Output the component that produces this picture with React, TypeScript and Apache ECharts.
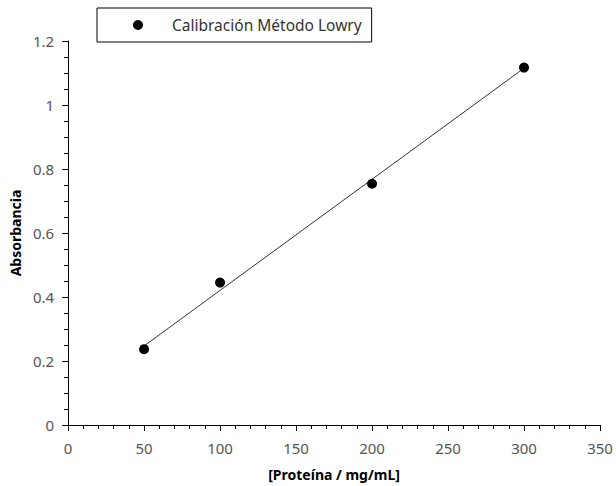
import React, { useEffect, useRef } from "react";
import * as echarts from "echarts";

// Protein concentration (mg/mL) and measured absorbance
const proteina = [50, 100, 200, 300];
const absorbancia = [0.237, 0.445, 0.754, 1.117];

// Calibration (least-squares) line end points
const ajusteX = [50, 300];
const ajusteY = [0.247, 1.115];

const serieNombre = "Calibración Método Lowry";
const ejeX = "[Proteína / mg/mL]";
const ejeY = "Absorbancia";

const FONT = "'Noto Sans', 'Open Sans', sans-serif";

export default function App() {
  const ref = useRef<HTMLDivElement>(null);

  useEffect(() => {
    if (!ref.current) return;
    const chart = echarts.init(ref.current, undefined, { renderer: "svg" });

    const puntos = proteina.map((x, i) => [x, absorbancia[i]]);
    const linea = ajusteX.map((x, i) => [x, ajusteY[i]]);

    const axisCommon = {
      axisLine: { show: true, lineStyle: { color: "#000", width: 1 } },
      axisTick: { show: true, inside: false, length: 6, lineStyle: { color: "#000" } },
      minorTick: { show: true, length: 4, lineStyle: { color: "#000" } },
      splitLine: { show: false },
      axisLabel: { color: "#555", fontSize: 15, fontFamily: FONT },
      nameTextStyle: { color: "#000", fontSize: 14, fontWeight: "bold", fontFamily: FONT },
    };

    chart.setOption({
      animation: false,
      textStyle: { fontFamily: FONT },
      grid: { left: 68, right: 16, top: 41, bottom: 56, containLabel: false },
      legend: {
        left: 97,
        top: 8,
        orient: "horizontal",
        icon: "circle",
        itemWidth: 10,
        itemHeight: 10,
        padding: [9, 10, 9, 36],
        borderColor: "#000",
        borderWidth: 1,
        borderRadius: 0,
        itemStyle: { color: "#000", opacity: 1 },
        textStyle: {
          color: "#333",
          fontSize: 15.5,
          fontFamily: FONT,
          padding: [0, 0, 0, 24],
        },
        data: [serieNombre],
      },
      xAxis: {
        type: "value",
        min: 0,
        max: 350,
        interval: 50,
        ...axisCommon,
        minorTick: { ...axisCommon.minorTick, splitNumber: 5 },
        axisLabel: { ...axisCommon.axisLabel, margin: 15 },
        name: ejeX,
        nameLocation: "middle",
        nameGap: 42,
      },
      yAxis: {
        type: "value",
        min: 0,
        max: 1.2,
        interval: 0.2,
        ...axisCommon,
        minorTick: { ...axisCommon.minorTick, splitNumber: 4 },
        axisLabel: {
          ...axisCommon.axisLabel,
          margin: 14,
          formatter: (v: number) => String(Math.round(v * 10) / 10),
        },
        name: ejeY,
        nameLocation: "middle",
        nameGap: 42,
      },
      series: [
        {
          name: "Ajuste",
          type: "line",
          data: linea,
          symbol: "none",
          lineStyle: { color: "#333", width: 1 },
          z: 2,
        },
        {
          name: serieNombre,
          type: "scatter",
          data: puntos,
          symbol: "circle",
          symbolSize: 10,
          itemStyle: { color: "#000", opacity: 1 },
          z: 3,
        },
      ],
    });

    return () => chart.dispose();
  }, []);

  return (
    <div
      ref={ref}
      style={{ position: "absolute", left: 0, top: 0, width: 616, height: 486 }}
    />
  );
}
